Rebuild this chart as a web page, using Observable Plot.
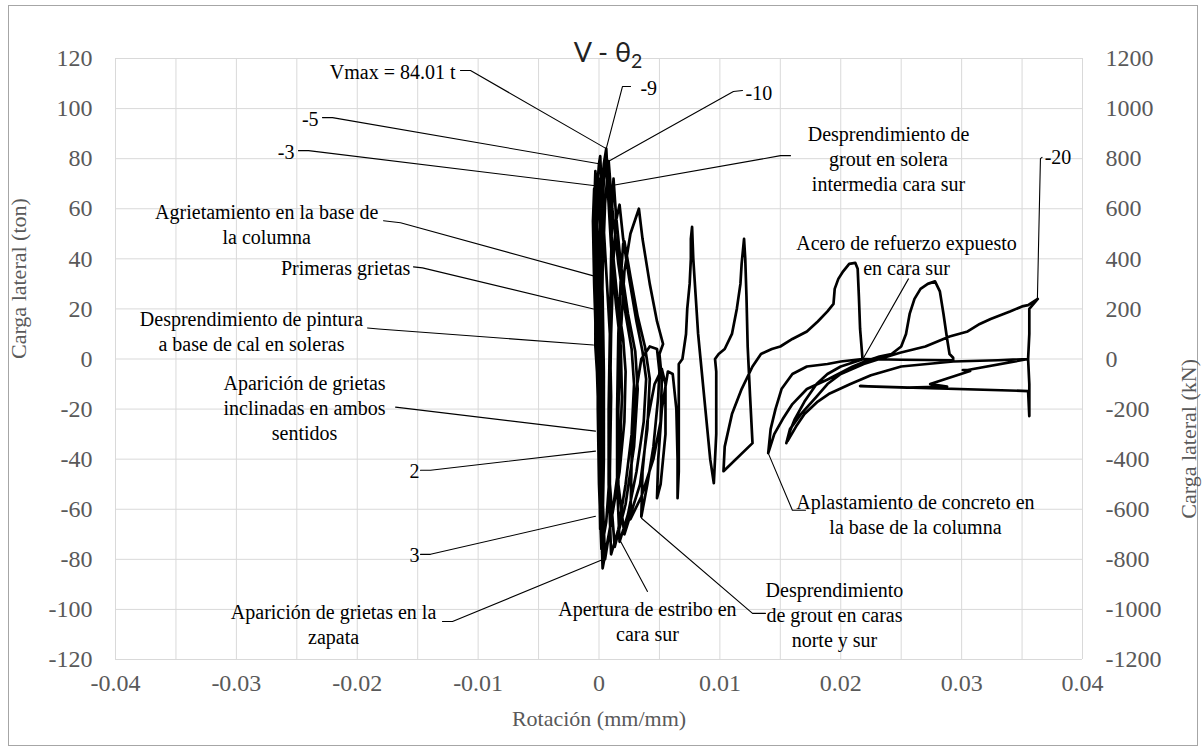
<!DOCTYPE html>
<html><head><meta charset="utf-8">
<script src="https://cdn.jsdelivr.net/npm/d3@7"></script>
<script src="https://cdn.jsdelivr.net/npm/@observablehq/plot@0.6"></script>
<style>
body{margin:0;background:#fff;}
#wrap{position:relative;width:1204px;height:748px;overflow:hidden}
#border{position:absolute;left:8px;top:5px;width:1190px;height:741px;border:1px solid #a6a6a6;box-sizing:border-box;pointer-events:none}
svg text{font-family:"Liberation Serif","DejaVu Serif",serif;}
svg g.titulo text{font-family:Lato,"Open Sans","DejaVu Sans",sans-serif;}
</style></head><body><div id="wrap"><div id="border"></div></div>
<script>
// ---- Ejes ----
const xTicks = [-0.04,-0.03,-0.02,-0.01,0,0.01,0.02,0.03,0.04];
const xLabels = ["-0.04","-0.03","-0.02","-0.01","0","0.01","0.02","0.03","0.04"];
const xGrid = [-0.04,-0.035,-0.03,-0.025,-0.02,-0.015,-0.01,-0.005,0,0.005,0.01,0.015,0.02,0.025,0.03,0.035,0.04];
const yTicks = [-120,-100,-80,-60,-40,-20,0,20,40,60,80,100,120];
const yLabelsTon = ["-120","-100","-80","-60","-40","-20","0","20","40","60","80","100","120"];
const yLabelsKN = ["-1200","-1000","-800","-600","-400","-200","0","200","400","600","800","1000","1200"];

// ---- Curva histerética [rotación, carga (t)] ----
const etapa1 = [
[0,0],[-0.0001,12],[-0.0002,25],[-0.0001,12],[0,0],[0.0001,-12],[0.0001,-25],[0,-10],[0,0],
[-0.0002,20],[-0.0003,38],[-0.0001,20],[0,0],[0.0001,-20],[0.0002,-40],[0.0001,-20],[-0.0001,0],
[-0.0002,25],[-0.0004,50],[-0.0002,30],[0,5],[0.0002,-25],[0.0002,-50],[0.0001,-28],[-0.0001,0],
[-0.0003,30],[-0.0004,62],[-0.0003,66],[-0.0002,40],[0,10],[0.0002,-25],[0.0002,-58],[0.0001,-60],[0,-30],[-0.0002,0],
[-0.0004,30],[-0.0005,55],[-0.0004,68],[-0.0003,50],[-0.0001,20],[0.0001,-10],[0.0003,-40],[0.0003,-62],[0.0002,-66],[0.0001,-40],[-0.0001,-10],[-0.0003,5],
[-0.0003,35],[-0.0004,60],[-0.0003,75],[-0.0002,70],[-0.0001,40],[0.0001,5],[0.0002,-30],[0.0002,-64],[0.0001,-68],[0,-40],[-0.0001,-5],[-0.0002,10],
[-0.0002,40],[-0.0001,62],[0,72],[0.0001,55],[0.0003,25],[0.0004,-5],[0.0004,-40],[0.0003,-65],[0.0002,-72],[0.0001,-45],[0,-15],[-0.0001,5]
];
const etapa2 = [
[-0.0003,40],[-0.0002,65],[0,78],[0.0001,81],[0.0003,60],[0.0006,35],[0.0009,10],[0.0010,-15],[0.0009,-45],[0.0006,-65],[0.0002,-76],[0,-50],[-0.0001,-20],[-0.0001,10],
[0,40],[0.0002,65],[0.0004,78],[0.0006,84.01],[0.0008,65],[0.0011,45],[0.0015,25],[0.0020,8],[0.0022,-5],[0.0021,-25],[0.0017,-45],[0.0010,-65],[0.0003,-83.6],[0.0001,-55],[0,-25],[0,0],
[0.0001,35],[0.0003,62],[0.0005,80],[0.0007,70],[0.0010,45],[0.0014,22],[0.0018,5],[0.0019,-15],[0.0017,-40],[0.0011,-62],[0.0005,-80],[0.0003,-55],[0.0002,-25],[0.0002,0],
[0.0003,35],[0.0005,62],[0.0008,79],[0.0011,60],[0.0016,38],[0.0022,18],[0.0027,4],[0.0029,-10],[0.0027,-30],[0.0022,-50],[0.0016,-68],[0.0010,-78],
[0.0008,-50],[0.0008,-20],[0.0009,10],[0.0010,40],[0.0011,62],[0.0012,72],[0.0014,58],[0.0018,38],[0.0024,18],[0.0030,3],[0.0032,-12],[0.0029,-35],[0.0022,-58],[0.0013,-75],
[0.0009,-50],[0.0009,-20],[0.0010,10],[0.0012,40],[0.0014,55],[0.0017,61.6],[0.0020,48],[0.0025,32],[0.0031,15],[0.0036,3],[0.0039,-8],[0.0037,-25],[0.0031,-45],[0.0024,-62],[0.0017,-73],
[0.0015,-50],[0.0015,-20],[0.0016,10],[0.0018,32],[0.0020,46],[0.0021,47],[0.0026,33],[0.0032,17],[0.0038,5],[0.0042,-8],[0.0040,-28],[0.0034,-50],[0.0021,-70],
[0.0016,-50],[0.0016,-20],[0.0018,10],[0.0021,35],[0.0026,50],[0.0033,60],[0.0036,48],[0.0042,30],[0.0048,15],[0.0053,6],[0.0050,2],[0.0052,-8],[0.0051,-25],[0.0045,-40],[0.0035,-55],[0.0026,-64],
[0.0027,-40],[0.0030,-15],[0.0035,0],[0.0042,5],[0.0048,4],[0.0050,-5],[0.0049,-15],[0.0045,-35],[0.0040,-50],[0.0035,-63],
[0.0036,-45],[0.0040,-25],[0.0046,-10],[0.0052,-4],[0.0055,-10],[0.0055,-30],[0.0051,-50],[0.0048,-55.6],
[0.0049,-40],[0.0052,-20],[0.0057,-5],[0.0061,-6],[0.0064,-20],[0.0065,-40],[0.0065,-55.6]
];
const etapa3 = [
[0.0066,-45],[0.0066,-20],[0.0066,-2],[0.0069,0],[0.0072,10],[0.0073,20],[0.0075,30],[0.0076,40],[0.0076,48],[0.0077,52.8],[0.0078,40],[0.0080,25],[0.0082,10],[0.0084,0],[0.0088,-20],[0.0092,-40],[0.0095,-49.6],
[0.0097,-30],[0.0097,-5],[0.0096,0],[0.0099,2],[0.0104,4],[0.0110,10],[0.0114,20],[0.0117,30],[0.0118,38],[0.0120,48],[0.0121,40],[0.0122,25],[0.0123,5],[0.0125,-15],[0.0127,-33.6],
[0.0103,-44.8],[0.0104,-35],[0.0110,-22],[0.0118,-12],[0.0127,-3],[0.0134,2],[0.0143,4],[0.0150,5],[0.0160,8],[0.0172,11],[0.0181,15],[0.0189,19],[0.0194,22],[0.0195,28],[0.0198,32],[0.0202,35],[0.0207,38],[0.0212,38.4],
[0.0214,36],[0.0215,25],[0.0216,12],[0.0218,0],
[0.0200,-1],[0.0189,-2],[0.0172,-3],[0.0160,-6],[0.0151,-12],[0.0146,-20],[0.0142,-28],[0.0140,-37.6]
];
const etapa4 = [
[0.0145,-30],[0.0152,-24],[0.0160,-18],[0.0172,-12],[0.0190,-8],[0.0210,-3],[0.0220,-1],[0.0232,1],[0.0242,2],[0.0250,5],[0.0254,10],[0.0257,18],[0.0261,24],[0.0266,28],[0.0272,30],[0.0278,31],
[0.0282,27],[0.0285,18],[0.0288,8],[0.0290,2],[0.0293,0.5],[0.0293,-0.5],[0.0250,-0.3],[0.0219,0],
[0.0200,-3],[0.0189,-6],[0.0180,-10],[0.0170,-17],[0.0162,-24],[0.0157,-30],[0.0155,-33.6],
[0.0158,-28],[0.0167,-22],[0.0180,-15],[0.0189,-10],[0.0200,-6],[0.0219,-2],[0.0232,0],[0.0249,2.5],[0.0270,5],[0.0290,9],[0.0305,11],[0.0315,14],[0.0324,16],[0.0340,19],[0.0350,21],[0.0355,21.5],[0.0363,24],
[0.0356,20],[0.0356,10],[0.0355,0],[0.0356,-10],[0.0356,-22.8],[0.0355,-12.8],
[0.0216,-10.8],[0.0255,-11.4],[0.0288,-11],[0.0274,-10],[0.0307,-4.8],[0.0301,-4.4],[0.0305,-4.4],[0.0355,0],
[0.0330,-0.5],[0.0293,-1],[0.0250,-3],[0.0225,-6.5],[0.0208,-10],[0.0190,-14],[0.0181,-17],[0.0170,-22],[0.0163,-27],[0.0156,-32.8]
];

// ---- Anotaciones ----
const notaTexto = ["Vmax = 84.01 t","-9","-10","Desprendimiento de\ngrout en solera\nintermedia cara sur","-5","-3",
"Agrietamiento en la base de\nla columna","Primeras grietas","Desprendimiento de pintura\na base de cal en soleras",
"Aparición de grietas\ninclinadas en ambos\nsentidos","2","3","Aparición de grietas en la\nzapata",
"Apertura de estribo en\ncara sur","Desprendimiento\nde grout en caras\nnorte y sur",
"Aplastamiento de concreto en\nla base de la columna","Acero de refuerzo expuesto\nen cara sur","-20"];
const notaRot = [-0.01187,0.00343,0.01212,0.02395,-0.0232,-0.02519,-0.02749,-0.01561,-0.02875,-0.02436,-0.01526,-0.01526,-0.02196,0.00401,0.01948,0.02618,0.02544,0.03687];
const notaCarga = [115.2,108.8,106.8,80.4,96.4,83.2,54.2,36.8,11.2,-19.2,-44.4,-78,-105.6,-104.4,-102,-61.6,41.6,81.2];
const notaAncla = ["end","start","start","middle","end","end","middle","end","middle","middle","middle","middle","middle","middle","middle","middle","middle","start"];

// líneas guía: [id, rotación, carga]
const guias = [
[1,-0.01146,115.2],[1,-0.01063,115.2],[1,0.0006,84.01],
[2,0.00261,108.8],[2,0.00194,108.8],[2,0.0006,84.01],
[3,0.01187,107.2],[3,0.01112,106.8],[3,0.0008,79],
[4,0.01584,81.2],[4,0.01502,81.2],[4,0.00095,69.2],
[5,-0.02288,96.4],[5,-0.02205,96.4],[5,0.0000,78],
[6,-0.02486,83.2],[6,-0.02403,83.2],[6,-0.0003,69.2],
[7,-0.01783,55.2],[7,-0.01642,54.4],[7,-0.00046,33.2],
[8,-0.01535,36.8],[8,-0.0146,36.4],[8,-0.00046,20],
[9,-0.01915,12.4],[9,-0.01824,12],[9,-0.00046,5.6],
[10,-0.01683,-19.2],[10,-0.00029,-28.8],
[11,-0.01477,-44.4],[11,-0.01394,-44.4],[11,-0.00029,-36.8],
[12,-0.01477,-78],[12,-0.01394,-78],[12,-0.00029,-62.8],
[13,-0.01295,-104.8],[13,-0.01212,-104.8],[13,0.00037,-80],
[14,0.00401,-92.8],[14,0.00178,-72.8],
[15,0.01377,-101.6],[15,0.0127,-101.6],[15,0.00352,-63.6],
[16,0.01708,-60.4],[16,0.016,-60.4],[16,0.0140,-37.6],
[17,0.0256,32],[17,0.02188,0.4],
[18,0.03665,80.5],[18,0.03652,80],[18,0.03627,24.4]
];

const curva = [...etapa1, ...etapa2, ...etapa3, ...etapa4].map(([r, v]) => ({r, v}));
const notas = notaTexto.map((t, i) => ({t, r: notaRot[i], v: notaCarga[i], a: notaAncla[i]}));
const lineasGuia = guias.map(([id, r, v]) => ({id, r, v}));

const serif = "Liberation Serif, DejaVu Serif, serif";
const gris = "#595959";
const textoNotas = a => Plot.text(notas.filter(d => d.a === a), {x: "r", y: "v", text: "t", textAnchor: a,
  lineAnchor: "middle", lineHeight: 1.25, fontSize: 20, fill: "#000", fontFamily: serif});

const chart = Plot.plot({
  width: 1204, height: 748,
  marginLeft: 115, marginRight: 122, marginTop: 58, marginBottom: 89,
  style: {fontFamily: serif, background: "transparent", overflow: "visible"},
  x: {domain: [-0.04, 0.04]},
  y: {domain: [-120, 120]},
  marks: [
    Plot.gridX(xGrid, {stroke: "#d9d9d9", strokeOpacity: 1, strokeWidth: 1}),
    Plot.gridY(yTicks, {stroke: "#d9d9d9", strokeOpacity: 1, strokeWidth: 1}),
    Plot.axisX(xTicks, {tickSize: 0, tickPadding: 14, fontSize: 24, fill: gris, label: null, fontFamily: serif,
      tickFormat: d => xLabels[xTicks.indexOf(d)]}),
    Plot.axisY(yTicks, {anchor: "left", tickSize: 0, tickPadding: 23, fontSize: 24, fill: gris, label: null, fontFamily: serif,
      tickFormat: d => yLabelsTon[yTicks.indexOf(d)]}),
    Plot.axisY(yTicks, {anchor: "right", tickSize: 0, tickPadding: 23, fontSize: 24, fill: gris, label: null, fontFamily: serif,
      tickFormat: d => yLabelsKN[yTicks.indexOf(d)]}),
    Plot.line(lineasGuia, {x: "r", y: "v", z: "id", stroke: "#000", strokeWidth: 1.1, curve: "linear"}),
    Plot.line(curva, {x: "r", y: "v", stroke: "#000", strokeWidth: 2.7, strokeLinejoin: "round"}),
    textoNotas("start"), textoNotas("middle"), textoNotas("end"),
    Plot.text(["Rotación (mm/mm)"], {frameAnchor: "bottom", dy: 66, fontSize: 22, fill: gris, fontFamily: serif}),
    Plot.text(["Carga lateral (ton)"], {frameAnchor: "left", dx: -97, rotate: -90, fontSize: 22, fill: gris, fontFamily: serif}),
    Plot.text(["Carga lateral (kN)"], {frameAnchor: "right", dx: 106, rotate: -90, fontSize: 22, fill: gris, fontFamily: serif}),
    Plot.text(["V - θ"], {frameAnchor: "top", dx: 9, dy: -16, fontSize: 27, fill: "#222",
      fontFamily: "Lato, Open Sans, DejaVu Sans, sans-serif", className: "titulo"})
  ]
});
d3.select(chart).select("g.titulo text").append("tspan")
  .attr("dy", "0.35em").attr("font-size", "0.72em").text("2");
chart.style.position = "absolute";
chart.style.left = "0px";
chart.style.top = "0px";
document.getElementById("wrap").appendChild(chart);
</script>
</body></html>
